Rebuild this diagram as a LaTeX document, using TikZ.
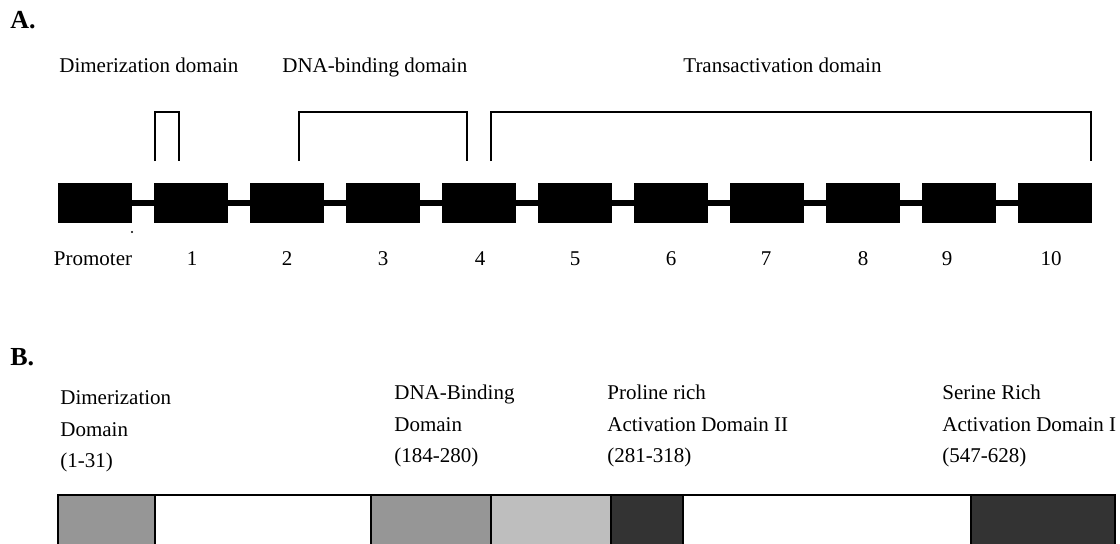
\documentclass[tikz,border=0pt]{standalone}
\usepackage{fontspec}
\setmainfont{Liberation Serif}
\definecolor{midgray}{HTML}{969696}
\definecolor{palegray}{HTML}{BEBEBE}
\definecolor{deepgray}{HTML}{333333}
\tikzset{
    exon/.style={fill=black, inner sep=0pt, minimum width=37pt, minimum height=20pt},
    intron/.style={line width=3pt},
    bracket/.style={line width=0.9pt},
    lab/.style={anchor=base west, inner sep=0pt, font=\fontsize{10.5}{12}\selectfont},
    num/.style={anchor=base, inner sep=0pt, font=\fontsize{10.5}{12}\selectfont},
    panel/.style={anchor=base west, inner sep=0pt, font=\fontsize{13}{15}\selectfont\bfseries},
    seg/.style={draw=black, line width=0.9pt},
}
\begin{document}
\begin{tikzpicture}[x=0.5pt, y=-0.5pt]
    \useasboundingbox (0,0) rectangle (1120,543);
    % panel A: exon map
    \node[panel] (pA) at (10,28) {A.};
    \node[lab] (dimA) at (59,72) {Dimerization domain};
    \node[lab] (dnaA) at (282,72) {DNA-binding domain};
    \node[lab] (transA) at (683,72) {Transactivation domain};
    \foreach \i in {0,...,10} {
        \node[exon] (e\i) at (95+96*\i,203) {};
    }
    \foreach \i [evaluate=\i as \j using int(\i+1)] in {0,...,9} {
        \draw[intron] (e\i.east) -- (e\j.west);
    }
    \fill (132,232) circle (0.6pt);
    \foreach \i/\x/\lab in {0/93/Promoter, 1/192/1, 2/287/2, 3/383/3, 4/480/4, 5/575/5,
                            6/671/6, 7/766/7, 8/863/8, 9/947/9, 10/1051/10} {
        \node[num] (n\i) at (\x,265) {\lab};
    }
    \draw[bracket] (155,161) |- (179,112) -- (179,161);
    \draw[bracket] (299,161) |- (467,112) -- (467,161);
    \draw[bracket] (491,161) |- (1091,112) -- (1091,161);
    % panel B: protein domains
    \node[panel] (pB) at (10,365) {B.};
    \foreach \x/\y/\nm/\txt in {60/404/dimB1/Dimerization, 60/436/dimB2/Domain, 60/467/dimB3/{(1-31)},
                                394/399/dnaB1/DNA-Binding, 394/431/dnaB2/Domain, 394/462/dnaB3/{(184-280)},
                                607/399/proB1/Proline rich, 607/431/proB2/Activation Domain II, 607/462/proB3/{(281-318)},
                                942/399/serB1/Serine Rich, 942/431/serB2/Activation Domain I, 942/462/serB3/{(547-628)}} {
        \node[lab] (\nm) at (\x,\y) {\txt};
    }
    \foreach \xa/\xb/\col in {58/155/midgray, 155/371/white, 371/491/midgray, 491/611/palegray,
                              611/683/deepgray, 683/971/white, 971/1115/deepgray} {
        \filldraw[seg, fill=\col] (\xa,495) rectangle (\xb,560);
    }
\end{tikzpicture}
\end{document}
